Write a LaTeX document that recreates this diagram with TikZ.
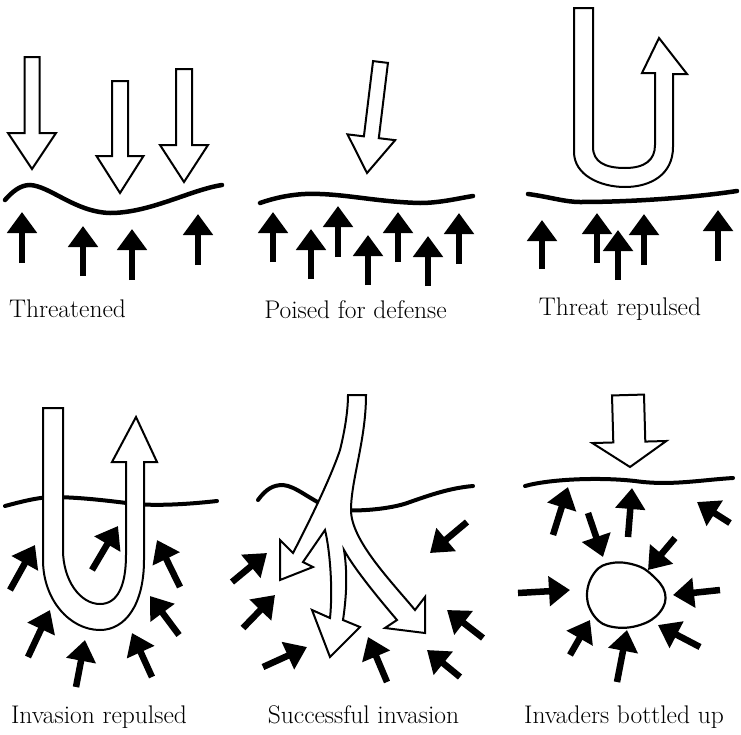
\documentclass[tikz,border=0pt]{standalone}
\usetikzlibrary{arrows.meta,calc}
\newcommand\hollowarrow[5]{%
  \coordinate (hab) at ($(#2)!#5!(#1)$);
  \draw[hollow] ($(#1)!#3!90:(#2)$) -- ($(hab)!#3!-90:(#1)$) -- ($(hab)!#4!-90:(#1)$) -- (#2)
    -- ($(hab)!#4!90:(#1)$) -- ($(hab)!#3!90:(#1)$) -- ($(#1)!#3!-90:(#2)$) -- cycle;}
\begin{document}
\begin{tikzpicture}[x=1pt,y=-1pt,
  boundary/.style={line width=4.5pt,line cap=round},
  hollow/.style={draw,fill=white,line width=2pt,line join=miter},
  defarrow/.style={line width=6.5pt,-{Triangle[width=29pt,length=21pt]}},
  caption/.style={font=\fontsize{25.5}{30}\selectfont,anchor=base,inner sep=0pt}]
\useasboundingbox (0,0) rectangle (741,734);

% ---------- Panel 1: Threatened ----------
\hollowarrow{32,57}{32,169}{7.5pt}{24pt}{36pt}
\hollowarrow{120,81}{120,193}{8pt}{23.5pt}{37pt}
\hollowarrow{184,69}{184,182}{8pt}{24pt}{37pt}
\draw[boundary] (5,200) .. controls (12,192) and (20,185) .. (30,185)
  .. controls (50,186) and (75,212) .. (110,213) .. controls (150,213) and (190,190) .. (222,185);
\draw[defarrow] (22,263) -- (22,212);
\draw[defarrow] (83,276) -- (83,226);
\draw[defarrow] (132,280) -- (132,229);
\draw[defarrow] (198,265) -- (198,214);
\node[caption] (c1) at (67.5,317) {Threatened};

% ---------- Panel 2: Poised for defense ----------
\hollowarrow{380.5,62}{367,173}{7.5pt}{24pt}{36pt}
\draw[boundary] (260,203) .. controls (280,196) and (300,193) .. (320,194)
  .. controls (350,195) and (380,202) .. (420,203) .. controls (440,203) and (460,198) .. (473,196);
\draw[defarrow] (273,262) -- (273,212);
\draw[defarrow] (311,279) -- (311,229);
\draw[defarrow] (338,257) -- (338,206);
\draw[defarrow] (368,285) -- (368,235);
\draw[defarrow] (398,262) -- (398,212);
\draw[defarrow] (428,286) -- (428,236);
\draw[defarrow] (459,264) -- (459,213);
\node[caption] (c2) at (355.5,318) {Poised for defense};

% ---------- Panel 3: Threat repulsed ----------
\draw[hollow] (574,8) -- (593,8) -- (593,147)
  .. controls (593,162) and (605,168) .. (625,168) .. controls (645,168) and (655,160) .. (655,145)
  -- (655,73) -- (642,73) -- (659,38) -- (687,74) -- (673,74) -- (673,147)
  .. controls (673,175) and (650,187) .. (625,187) .. controls (600,187) and (574,175) .. (574,152) -- cycle;
\draw[boundary] (528,194) .. controls (550,197) and (565,202) .. (580,202)
  .. controls (630,202) and (690,198) .. (737,191);
\draw[defarrow] (542,269) -- (542,220);
\draw[defarrow] (597,263) -- (597,213);
\draw[defarrow] (618,280) -- (618,230);
\draw[defarrow] (644,265) -- (644,214);
\draw[defarrow] (718,261) -- (718,210);
\node[caption] (c3) at (620,315) {Threat repulsed};

% ---------- Panel 4: Invasion repulsed ----------
\draw[boundary,line width=4pt] (5,506) .. controls (20,502) and (35,498) .. (50,497)
  .. controls (80,497) and (110,501) .. (135,504) .. controls (160,506) and (190,504) .. (217,501);
\draw[hollow] (43,408) -- (63,408) -- (63,550)
  .. controls (63,580) and (80,604) .. (100,604) .. controls (118,604) and (126,585) .. (126,555)
  -- (126,462) -- (112,462) -- (136,417) -- (157,462) -- (144,462) -- (144,560)
  .. controls (144,605) and (125,630) .. (100,630) .. controls (70,630) and (43,600) .. (43,560) -- cycle;
\draw[defarrow] (10,590) -- (35,545);
\draw[defarrow] (92,570) -- (118,526);
\draw[defarrow] (180,587) -- (157,540);
\draw[defarrow] (28,657) -- (50,610);
\draw[defarrow] (179,635) -- (150,596);
\draw[defarrow] (76,687) -- (85,640);
\draw[defarrow] (152,677) -- (132,633);
\node[caption] (c4) at (99,723) {Invasion repulsed};

% ---------- Panel 5: Successful invasion ----------
\draw[boundary,line width=4pt] (258,500) .. controls (266,489) and (273,485) .. (283,485)
  .. controls (296,486) and (310,500) .. (330,508) .. controls (345,513) and (390,510) .. (410,502)
  .. controls (430,495) and (450,488) .. (473,486);
\draw[hollow] (348,395) -- (366,395)
  .. controls (366,440) and (351,480) .. (351,510) .. controls (351,540) and (390,580) .. (415,610)
  -- (425,597) -- (425,633) -- (385,628) -- (397,620)
  .. controls (380,600) and (355,570) .. (344,550)
  .. controls (348,575) and (346,600) .. (343,620)
  -- (360,627) -- (330,657) -- (312,610) -- (330,618)
  .. controls (333,590) and (330,550) .. (325,530)
  -- (303,562) -- (313,567) -- (280,580) -- (280,540) -- (293,553)
  .. controls (305,530) and (330,480) .. (340,450) .. controls (345,430) and (348,410) .. (348,395) -- cycle;
\draw[defarrow] (232,582) -- (267,553);
\draw[defarrow] (243,628) -- (275,595);
\draw[defarrow] (263,667) -- (307,647);
\draw[defarrow] (387,682) -- (368,637);
\draw[defarrow] (460,677) -- (427,650);
\draw[defarrow] (483,638) -- (447,610);
\draw[defarrow] (467,522) -- (430,553);
\node[caption] (c5) at (363.5,723) {Successful invasion};

% ---------- Panel 6: Invaders bottled up ----------
\hollowarrow{628,395}{630,467}{16pt}{37pt}{25pt}
\draw[boundary,line width=4pt] (525,486) .. controls (550,479) and (600,477) .. (635,481)
  .. controls (670,486) and (700,480) .. (733,478);
\draw[line width=2.2pt] plot[smooth cycle,tension=0.7] coordinates
  {(587,595) (595,572) (612,563) (635,565) (652,575) (665,593) (660,612) (640,625) (613,627) (595,617)};
\draw[defarrow] (553,535) -- (568,487);
\draw[defarrow] (628,537) -- (632,488);
\draw[defarrow] (730,523) -- (697,502);
\draw[defarrow] (588,513) -- (603,557);
\draw[defarrow] (675,538) -- (648,570);
\draw[defarrow] (518,593) -- (570,590);
\draw[defarrow] (720,590) -- (673,595);
\draw[defarrow] (570,655) -- (590,620);
\draw[defarrow] (617,682) -- (627,630);
\draw[defarrow] (700,647) -- (658,625);
\node[caption] (c6) at (624,723) {Invaders bottled up};
\end{tikzpicture}
\end{document}
